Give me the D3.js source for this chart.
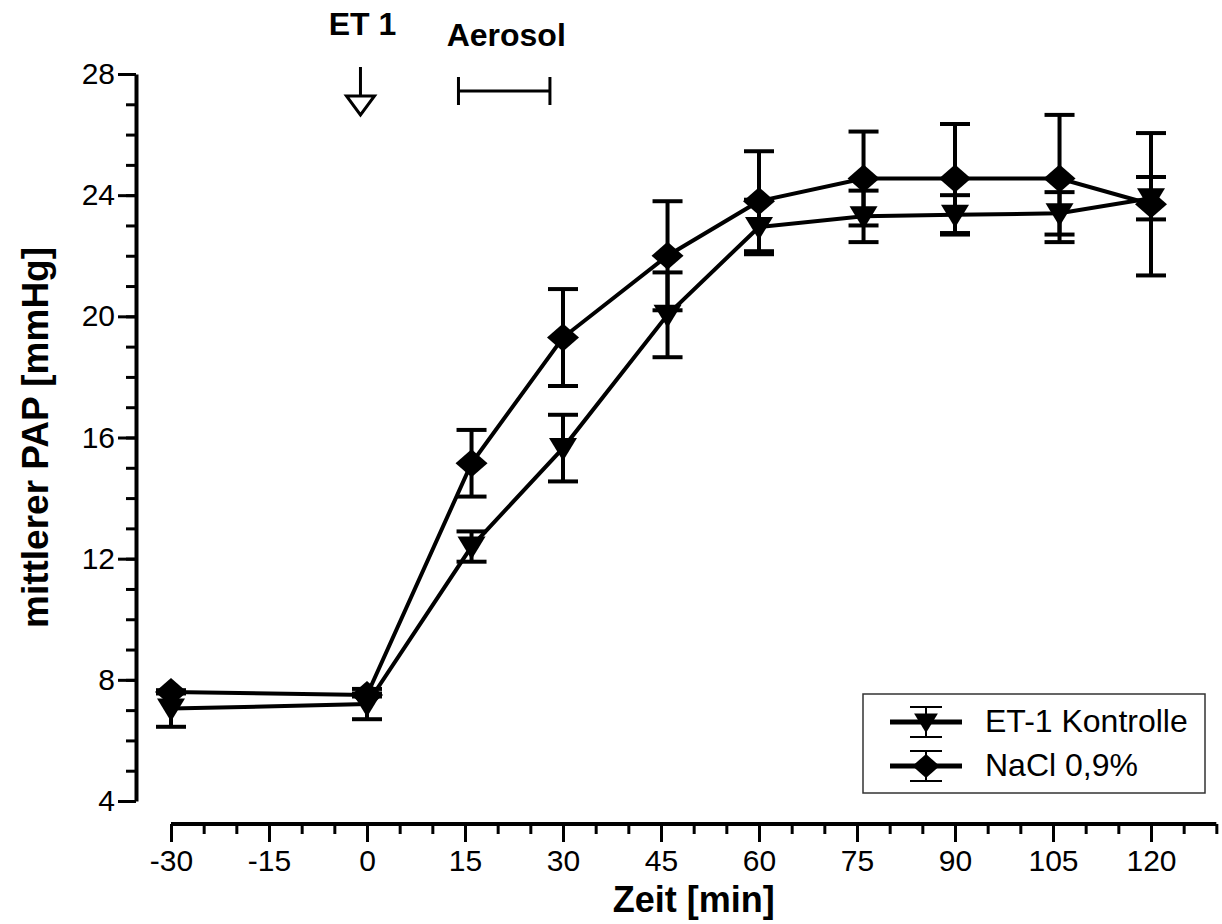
<!DOCTYPE html>
<html>
<head>
<meta charset="utf-8">
<script src="https://cdn.jsdelivr.net/npm/d3@7"></script>
<style>
  body { margin: 0; background: #fff; }
  svg { font-family: "Liberation Sans", Arial, sans-serif; }
</style>
</head>
<body>
<svg id="chart"></svg>
<script>
var width = 1222,
    height = 924;

// time points (min) - both groups share them
var times = [-30, 0, 16, 30, 46, 60, 76, 90, 106, 120];

// ET-1 Kontrolle
var etMean = [7.05, 7.2, 12.4, 15.65, 20.05, 22.95, 23.3, 23.35, 23.4, 23.9];
var etErr  = [0.6, 0.5, 0.5, 1.1, 1.4, 0.9, 0.85, 0.65, 0.7, 0.7];

// NaCl 0,9%
var naclMean = [7.6, 7.5, 15.15, 19.3, 22.0, 23.8, 24.55, 24.55, 24.55, 23.7];
var naclErr  = [0.05, 0.05, 1.1, 1.6, 1.8, 1.65, 1.55, 1.8, 2.1, 2.35];

var xTicks = [-30, -15, 0, 15, 30, 45, 60, 75, 90, 105, 120];
var yTicks = [4, 8, 12, 16, 20, 24, 28];
var seriesNames = ["ET-1 Kontrolle", "NaCl 0,9%"];

// annotations
var et1Time = -1;
var aerosolTimes = [14, 28];

var x = d3.scaleLinear().domain([0, 120]).range([367, 1151]);
var y = d3.scaleLinear().domain([4, 28]).range([801, 74]);

const svg = d3.select("#chart")
    .attr("width", width)
    .attr("height", height);

// ---- axes ----
var yAxisX = 136, xAxisY = 824;

var yMinor = d3.range(4, 28.01, 1);
svg.append("g")
    .attr("transform", "translate(" + yAxisX + ",0)")
    .call(d3.axisLeft(y).tickValues(yMinor).tickSize(10).tickFormat(""))
    .call(g => g.select(".domain").remove())
    .selectAll("line").attr("stroke-width", 3);

var yAx = svg.append("g")
    .attr("transform", "translate(" + yAxisX + ",0)")
    .call(d3.axisLeft(y).tickValues(yTicks).tickSize(18).tickSizeOuter(0).tickPadding(3)
        .tickFormat(d => String(d)));
yAx.select(".domain").attr("stroke-width", 4);
yAx.selectAll("line").attr("stroke-width", 3);
yAx.selectAll("text").attr("font-size", 30).attr("fill", "#000")
    .attr("font-family", "Liberation Sans, Arial, sans-serif");

var xMinor = d3.range(-30, 130.1, 5);
svg.append("g")
    .attr("transform", "translate(0," + xAxisY + ")")
    .call(d3.axisBottom(x).tickValues(xMinor).tickSize(10).tickFormat(""))
    .call(g => g.select(".domain").remove())
    .selectAll("line").attr("stroke-width", 3);

var xAx = svg.append("g")
    .attr("transform", "translate(0," + xAxisY + ")")
    .call(d3.axisBottom(x).tickValues(xTicks).tickSize(18).tickSizeOuter(0).tickPadding(8)
        .tickFormat(d => String(d)));
xAx.select(".domain").attr("d", "M" + x(-30) + ",0H" + x(130)).attr("stroke-width", 4);
xAx.selectAll("line").attr("stroke-width", 3);
xAx.selectAll("text").attr("font-size", 30).attr("fill", "#000")
    .attr("font-family", "Liberation Sans, Arial, sans-serif");

// axis titles
svg.append("text")
    .attr("x", (x(-30) + x(130)) / 2).attr("y", 912)
    .attr("text-anchor", "middle")
    .attr("font-size", 36).attr("font-weight", "bold")
    .text("Zeit [min]");

svg.append("text")
    .attr("transform", "translate(48," + (y(4) + y(28)) / 2 + ") rotate(-90)")
    .attr("text-anchor", "middle")
    .attr("font-size", 37).attr("font-weight", "bold")
    .text("mittlerer PAP [mmHg]");

// ---- data ----
var et = times.map((t, i) => ({t: t, v: etMean[i], e: etErr[i]}));
var nacl = times.map((t, i) => ({t: t, v: naclMean[i], e: naclErr[i]}));

var diamond = "M0,-14L16,0L0,14L-16,0Z";
var triDown = "M-14,-10L14,-10L0,13Z";

function drawErrors(data) {
    var g = svg.append("g").attr("stroke", "#000").attr("stroke-width", 4);
    data.forEach(d => {
        g.append("line")
            .attr("x1", x(d.t)).attr("x2", x(d.t))
            .attr("y1", y(d.v - d.e)).attr("y2", y(d.v + d.e));
        [d.v - d.e, d.v + d.e].forEach(v => {
            g.append("line")
                .attr("x1", x(d.t) - 15).attr("x2", x(d.t) + 15)
                .attr("y1", y(v)).attr("y2", y(v));
        });
    });
}

var line = d3.line().x(d => x(d.t)).y(d => y(d.v));

function drawLine(data) {
    svg.append("path")
        .datum(data)
        .attr("fill", "none")
        .attr("stroke", "#000")
        .attr("stroke-width", 4)
        .attr("d", line);
}

function drawMarkers(data, shape) {
    svg.append("g").selectAll("path")
        .data(data)
        .enter().append("path")
        .attr("d", shape)
        .attr("fill", "#000")
        .attr("transform", d => "translate(" + x(d.t) + "," + y(d.v) + ")");
}

drawErrors(et);
drawErrors(nacl);
drawLine(et);
drawLine(nacl);
drawMarkers(et, triDown);
drawMarkers(nacl, diamond);

// ---- annotations ----
var ax = x(et1Time);
svg.append("text")
    .attr("x", ax + 2).attr("y", 35)
    .attr("text-anchor", "middle")
    .attr("font-size", 32).attr("font-weight", "bold")
    .text("ET 1");

svg.append("line")
    .attr("x1", ax).attr("x2", ax)
    .attr("y1", 67).attr("y2", 96)
    .attr("stroke", "#000").attr("stroke-width", 3);
svg.append("path")
    .attr("d", "M" + (ax - 14) + ",96L" + (ax + 14) + ",96L" + ax + ",115Z")
    .attr("fill", "#fff").attr("stroke", "#000").attr("stroke-width", 3);

svg.append("text")
    .attr("x", (x(aerosolTimes[0]) + x(aerosolTimes[1])) / 2 + 2).attr("y", 46)
    .attr("text-anchor", "middle")
    .attr("font-size", 32).attr("font-weight", "bold")
    .text("Aerosol");

var aer = svg.append("g").attr("stroke", "#000").attr("stroke-width", 3);
aer.append("line")
    .attr("x1", x(aerosolTimes[0])).attr("x2", x(aerosolTimes[1]))
    .attr("y1", 91).attr("y2", 91);
aerosolTimes.forEach(t => {
    aer.append("line").attr("x1", x(t)).attr("x2", x(t)).attr("y1", 77).attr("y2", 105);
});

// ---- legend ----
var legend = svg.append("g");
legend.append("rect")
    .attr("x", 863).attr("y", 694)
    .attr("width", 342).attr("height", 99)
    .attr("fill", "#fff").attr("stroke", "#333").attr("stroke-width", 1.5);

var legendShapes = [triDown, diamond];
seriesNames.forEach((name, i) => {
    var cy = 722 + i * 44;
    var g = legend.append("g").attr("stroke", "#000");
    g.append("line").attr("x1", 890).attr("x2", 962).attr("y1", cy).attr("y2", cy).attr("stroke-width", 5);
    g.append("line").attr("x1", 926).attr("x2", 926).attr("y1", cy - 15).attr("y2", cy + 15).attr("stroke-width", 2);
    [-15, 15].forEach(o => {
        g.append("line").attr("x1", 910).attr("x2", 942).attr("y1", cy + o).attr("y2", cy + o).attr("stroke-width", 2);
    });
    legend.append("path")
        .attr("d", legendShapes[i])
        .attr("fill", "#000")
        .attr("transform", "translate(926," + cy + ") scale(0.85)");
    legend.append("text")
        .attr("x", 985).attr("y", cy + 10)
        .attr("font-size", 32)
        .text(name);
});
</script>
</body>
</html>
